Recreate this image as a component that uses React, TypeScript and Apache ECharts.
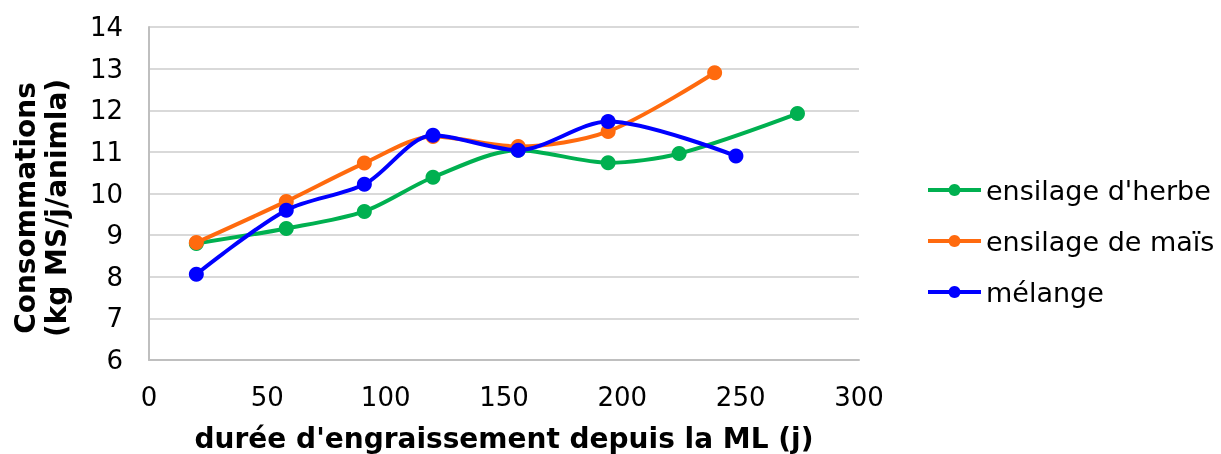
import React, { useEffect, useRef } from "react";
import * as echarts from "echarts";

const herbeX = [20, 58, 91, 120, 156, 194, 224, 274];
const herbeY = [8.8, 9.16, 9.57, 10.39, 11.04, 10.74, 10.96, 11.92];
const maisX = [20, 58, 91, 120, 156, 194, 239];
const maisY = [8.82, 9.81, 10.73, 11.37, 11.13, 11.49, 12.9];
const melangeX = [20, 58, 91, 120, 156, 194, 248];
const melangeY = [8.06, 9.6, 10.22, 11.4, 11.04, 11.73, 10.9];
const seriesNames = ["ensilage d'herbe", "ensilage de maïs", "mélange"];
const colors = ["#00B050", "#FF6A0E", "#0000FF"];

const FONT = "DejaVu Sans, Verdana, sans-serif";

export default function App() {
  const ref = useRef<HTMLDivElement>(null);
  useEffect(() => {
    const chart = echarts.init(ref.current!, undefined, { renderer: "svg" });
    const pairs = [
      [herbeX, herbeY],
      [maisX, maisY],
      [melangeX, melangeY],
    ];
    chart.setOption({
      animation: false,
      textStyle: { fontFamily: FONT },
      grid: {
        left: 149,
        right: 362,
        top: 27,
        bottom: 94,
        containLabel: false,
        outerBoundsMode: "none",
      },
      xAxis: {
        type: "value",
        min: 0,
        max: 300,
        interval: 50,
        axisLine: { show: true, lineStyle: { color: "#BFBFBF", width: 2 } },
        axisTick: { show: false },
        splitLine: { show: false },
        axisLabel: { color: "#000", fontSize: 26, margin: 24, fontFamily: FONT },
        name: "durée d'engraissement depuis la ML (j)",
        nameLocation: "middle",
        nameGap: 64,
        nameTextStyle: { color: "#000", fontSize: 28, fontWeight: "bold", fontFamily: FONT },
      },
      yAxis: {
        type: "value",
        min: 6,
        max: 14,
        interval: 1,
        axisLine: { show: true, lineStyle: { color: "#BFBFBF", width: 2 } },
        axisTick: { show: false },
        splitLine: { show: true, lineStyle: { color: "#D9D9D9", width: 2 } },
        axisLabel: { color: "#000", fontSize: 26, margin: 26, fontFamily: FONT },
      },
      graphic: [
        {
          type: "text",
          x: 41,
          y: 208,
          rotation: Math.PI / 2,
          style: {
            text: "Consommations\n(kg MS/j/animla)",
            fill: "#000",
            font: "bold 28px " + FONT,
            align: "center",
            verticalAlign: "middle",
            lineHeight: 31,
          },
        },
      ],
      legend: {
        orient: "vertical",
        left: 921,
        top: 170,
        itemWidth: 53,
        itemHeight: 15,
        itemGap: 21,
        lineStyle: { width: 4 },
        textStyle: { color: "#000", fontSize: 27, lineHeight: 30, fontFamily: FONT },
        data: seriesNames,
      },
      series: pairs.map((p, i) => ({
        name: seriesNames[i],
        type: "line",
        smooth: 0.3,
        symbol: "circle",
        symbolSize: 15,
        color: colors[i],
        lineStyle: { width: 4, color: colors[i] },
        itemStyle: { color: colors[i] },
        data: p[0].map((x, j) => [x, p[1][j]]),
        z: 2 + i,
      })),
    });
    return () => chart.dispose();
  }, []);
  return (
    <div
      ref={ref}
      style={{ position: "fixed", left: 0, top: 0, width: 1221, height: 454 }}
    />
  );
}
